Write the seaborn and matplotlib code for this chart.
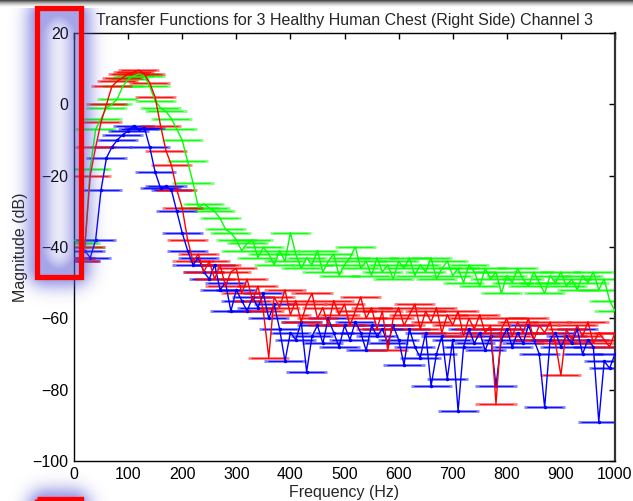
import numpy as np
import pandas as pd
import matplotlib
matplotlib.use("Agg")
import matplotlib.pyplot as plt
from matplotlib.patches import Rectangle
import seaborn as sns

# ---------------- data ----------------
freq_hz = [0, 10, 20, 30, 40, 50, 60, 70, 80, 90, 100, 110, 120, 130, 140, 150, 160, 170, 180,
           190, 200, 210, 220, 230, 240, 250, 260, 270, 280, 290, 300, 310, 320, 330, 340, 350,
           360, 370, 380, 390, 400, 410, 420, 430, 440, 450, 460, 470, 480, 490, 500, 510, 520,
           530, 540, 550, 560, 570, 580, 590, 600, 610, 620, 630, 640, 650, 660, 670, 680, 690,
           700, 710, 720, 730, 740, 750, 760, 770, 780, 790, 800, 810, 820, 830, 840, 850, 860,
           870, 880, 890, 900, 910, 920, 930, 940, 950, 960, 970, 980, 990, 1000]

green_db = [-38, -39, -40, -18, -7, -4, -1, 0, 1.5, 5, 7, 8, 8.5, 8, 5, 1, -1, -2, -4,
            -7, -10, -16, -22, -29, -28, -29, -30, -32, -35, -36, -38, -41, -39, -38, -43, -40,
            -42, -45, -41, -44, -36, -42, -46, -43, -45, -41, -47, -44, -42, -48, -45, -43, -40,
            -46, -44, -48, -43, -47, -45, -49, -44, -46, -43, -48, -45, -47, -43, -49, -46, -44,
            -48, -46, -50, -45, -47, -51, -46, -49, -47, -53, -48, -50, -46, -49, -51, -47, -50,
            -53, -48, -50, -47, -51, -49, -52, -48, -50, -47, -52, -49, -55, -58]

blue_db = [-43, -44, -41, -43, -38, -24, -15, -12, -10, -8.5, -7.5, -6, -7, -6.5, -12, -19,
           -23.5, -23, -24, -30, -36, -41, -45, -43, -47, -49, -45, -52, -50, -58, -52, -55,
           -58, -54, -57, -53, -60, -56, -63, -72, -64, -66, -61, -75, -65, -62, -67, -60,
           -64, -68, -62, -66, -61, -64, -69, -62, -65, -63, -67, -62, -66, -73, -63, -68,
           -71, -64, -79, -70, -65, -77, -66, -86, -68, -63, -67, -64, -69, -65, -79, -66,
           -63, -68, -64, -67, -62, -66, -70, -85, -66, -64, -68, -65, -67, -63, -70, -66,
           -68, -89, -72, -74, -70]

red_db = [-43, -44, -40, -20, -12, -5, 0, 5, 6.5, 7.5, 8.5, 9, 9.6, 8.5, 6, 2, -6, -13, -17,
          -24, -29, -38, -44, -42, -47, -44, -49, -45, -51, -47, -46, -53, -49, -55, -51, -58,
          -71, -54, -57, -52, -59, -55, -61, -56, -53, -60, -57, -62, -55, -59, -56, -62, -58,
          -54, -60, -57, -63, -58, -69, -60, -57, -62, -59, -56, -63, -58, -61, -57, -64, -59,
          -62, -58, -65, -60, -63, -59, -64, -62, -84, -63, -60, -65, -61, -64, -60, -66, -62,
          -64, -61, -67, -76, -63, -66, -62, -65, -61, -67, -64, -66, -68, -64]

freq_halfwidth_hz = 38

title_text = "Transfer Functions for 3 Healthy Human Chest (Right Side) Channel 3"
x_label = "Frequency (Hz)"
y_label = "Magnitude (dB)"
x_ticks = [0, 100, 200, 300, 400, 500, 600, 700, 800, 900, 1000]
y_ticks = [-100, -80, -60, -40, -20, 0, 20]

# ---------------- style ----------------
sns.set_style("white")
plt.rcParams["font.family"] = ["Liberation Sans", "DejaVu Sans"]

W, H = 633, 501
FS = 11.5
fig = plt.figure(figsize=(W / 100, H / 100), dpi=100)
fig.patch.set_facecolor("white")

ax = fig.add_axes([74 / W, 1 - 461 / H, (615 - 74) / W, (461 - 33) / H])

series = [("green", green_db, "#00ff00", None),
          ("blue", blue_db, "#0000ff", "."),
          ("red", red_db, "#ff0000", None)]

for name, vals, col, mk in series:
    df = pd.DataFrame({"f": freq_hz, "db": vals})
    ax.errorbar(df["f"], df["db"], xerr=freq_halfwidth_hz, fmt="none",
                ecolor=col, elinewidth=2.0, alpha=0.5, capsize=0, zorder=2)
    ax.errorbar(df["f"], df["db"], xerr=freq_halfwidth_hz * 0.85, fmt="none",
                ecolor=col, elinewidth=0.8, alpha=0.85, capsize=0, zorder=2)
    sns.lineplot(data=df, x="f", y="db", ax=ax, color=col, linewidth=1.0,
                 marker=mk, markersize=5 if mk else 0, markeredgewidth=0,
                 sort=False, estimator=None, zorder=3, legend=False)

ax.set_xlim(0, 1000)
ax.set_ylim(-100, 20)
ax.set_xticks(x_ticks)
ax.set_yticks(y_ticks)
ax.tick_params(direction="in", length=4, width=1, top=True, right=True,
               labelsize=FS, colors="black", pad=4)
for s in ax.spines.values():
    s.set_visible(True)
    s.set_color("black")
    s.set_linewidth(1.0)
ax.spines["right"].set_linewidth(1.6)
ax.spines["right"].set_color("#333333")

ax.set_xlabel(x_label, fontsize=FS, labelpad=2.5)
ax.set_ylabel(y_label, fontsize=FS, labelpad=3)
ax.set_title(title_text, fontsize=FS, pad=6)

# ---------------- screenshot overlays ----------------
ov = fig.add_axes([0, 0, 1, 1], zorder=10)
ov.set_xlim(0, W)
ov.set_ylim(H, 0)
ov.set_axis_off()
ov.patch.set_alpha(0)

# glow mask around the red boxes
mask = np.zeros((H + 60, W), dtype=float)
def add_outline(x0, y0, x1, y1, t=6):
    mask[y0:y1, x0:x0 + t] = 1
    mask[y0:y1, x1 - t:x1] = 1
    mask[y0:y0 + t, x0:x1] = 1
    mask[y1 - t:y1, x0:x1] = 1
add_outline(35, 6, 83, 279)
add_outline(35, 497, 83, 545)

sigma = 10.0
k = np.arange(-34, 35)
kern = np.exp(-0.5 * (k / sigma) ** 2)
kern /= kern.sum()
blur = np.apply_along_axis(lambda r: np.convolve(r, kern, mode="same"), 1, mask)
blur = np.apply_along_axis(lambda c: np.convolve(c, kern, mode="same"), 0, blur)
blur = blur[:H]
alpha = np.clip(blur * 2.4, 0, 0.55)
rgba = np.zeros((H, W, 4))
rgba[..., 0] = 0.36
rgba[..., 1] = 0.36
rgba[..., 2] = 0.84
rgba[..., 3] = alpha

# top shadow band
band = 8
for i in range(band):
    g = 0.30 + 0.70 * i / (band - 1)
    rgba[i, :, :3] = g
    rgba[i, :, 3] = 1.0 - i / band * 0.9

ov.imshow(rgba, extent=[0, W, H, 0], interpolation="nearest", zorder=1)

for (x0, y0, x1, y1) in [(37, 8, 81, 277), (37, 499, 81, 545)]:
    ov.add_patch(Rectangle((x0, y0), x1 - x0, y1 - y0, facecolor="none",
                           edgecolor="#ff0000", linewidth=3.8, zorder=2))

fig.savefig("out.png", dpi=100)
